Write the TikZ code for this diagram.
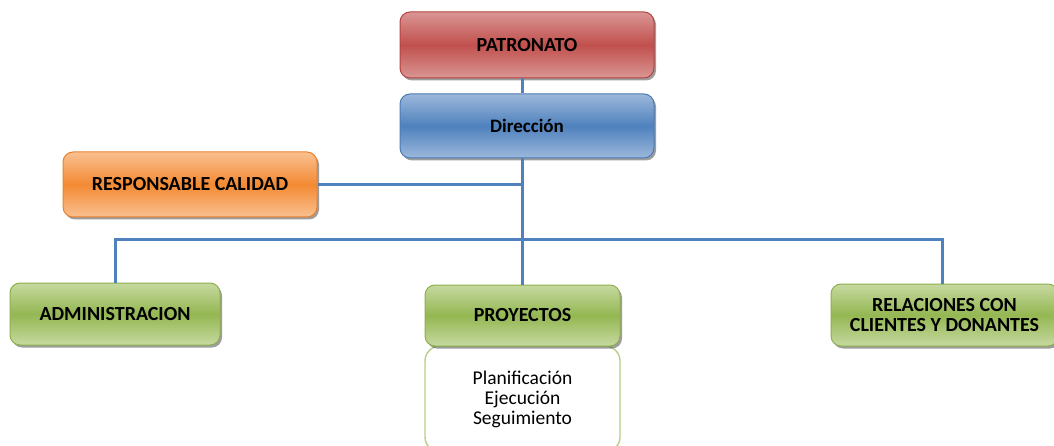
\documentclass[tikz,border=0pt]{standalone}
\usepackage{fontspec}
\setmainfont{Carlito}
\usetikzlibrary{shadows}
\definecolor{redD}{HTML}{C0504D}\definecolor{redL}{HTML}{DA9694}\definecolor{redB}{HTML}{B5423F}
\definecolor{bluD}{HTML}{4F81BD}\definecolor{bluL}{HTML}{9CB8DB}\definecolor{bluB}{HTML}{4A7AB5}
\definecolor{oraD}{HTML}{F38A33}\definecolor{oraL}{HTML}{FAC090}\definecolor{oraB}{HTML}{E8822E}
\definecolor{grnD}{HTML}{94B752}\definecolor{grnL}{HTML}{C6D9A0}\definecolor{grnB}{HTML}{8DB04D}
\definecolor{lineC}{HTML}{4F81BD}
\tikzset{
  box/.style={rectangle, rounded corners=10pt, line width=1pt, align=center,
    font=\bfseries\fontsize{20}{20}\selectfont,
    drop shadow={shadow xshift=2pt, shadow yshift=-2.5pt, opacity=0.55, fill=black!70}},
  redbox/.style={box, draw=redB, top color=redL, bottom color=redL, middle color=redD},
  blubox/.style={box, draw=bluB, top color=bluL, bottom color=bluL, middle color=bluD},
  orabox/.style={box, draw=oraB, top color=oraL, bottom color=oraL, middle color=oraD},
  grnbox/.style={box, draw=grnB, top color=grnL, bottom color=grnL, middle color=grnD},
  subbox/.style={rectangle, rounded corners=15pt, line width=1.4pt, draw=grnL!70!grnD, fill=white,
    align=center, font=\fontsize{19.5}{20}\selectfont},
  conn/.style={draw=lineC, line width=3pt}
}
\begin{document}
\begin{tikzpicture}[x=1pt,y=-1pt]
\clip (0,0) rectangle (1054,446);
\node[subbox, minimum width=195pt, minimum height=106pt] (sub) at (522.5,399) {Planificación\\Ejecución\\Seguimiento};
\node[redbox, minimum width=254pt, minimum height=66pt] (pat) at (527,45) {PATRONATO};
\node[blubox, minimum width=254pt, minimum height=64pt, font=\bfseries\fontsize{19}{20}\selectfont] (dir) at (527,126) {Dirección};
\node[orabox, minimum width=254pt, minimum height=65pt] (resp) at (190,184.5) {RESPONSABLE CALIDAD};
\node[grnbox, minimum width=210pt, minimum height=62pt] (adm) at (115,314) {ADMINISTRACION};
\node[grnbox, minimum width=195pt, minimum height=61pt] (proy) at (522.5,315.5) {PROYECTOS};
\node[grnbox, minimum width=227pt, minimum height=62pt] (rel) at (944.5,315) {RELACIONES CON\\CLIENTES Y DONANTES};
\coordinate (hl) at (522,240);
\coordinate (top) at (522,78);
\coordinate (rx) at (942,240);
\draw[conn] (top) -- (top |- dir.north);
\draw[conn] (dir.south -| hl) -- (hl |- proy.north);
\draw[conn] (resp.east) -- (resp.east -| hl);
\draw[conn] (adm.north) |- (rx) -- (rx |- rel.north);
\end{tikzpicture}
\end{document}
